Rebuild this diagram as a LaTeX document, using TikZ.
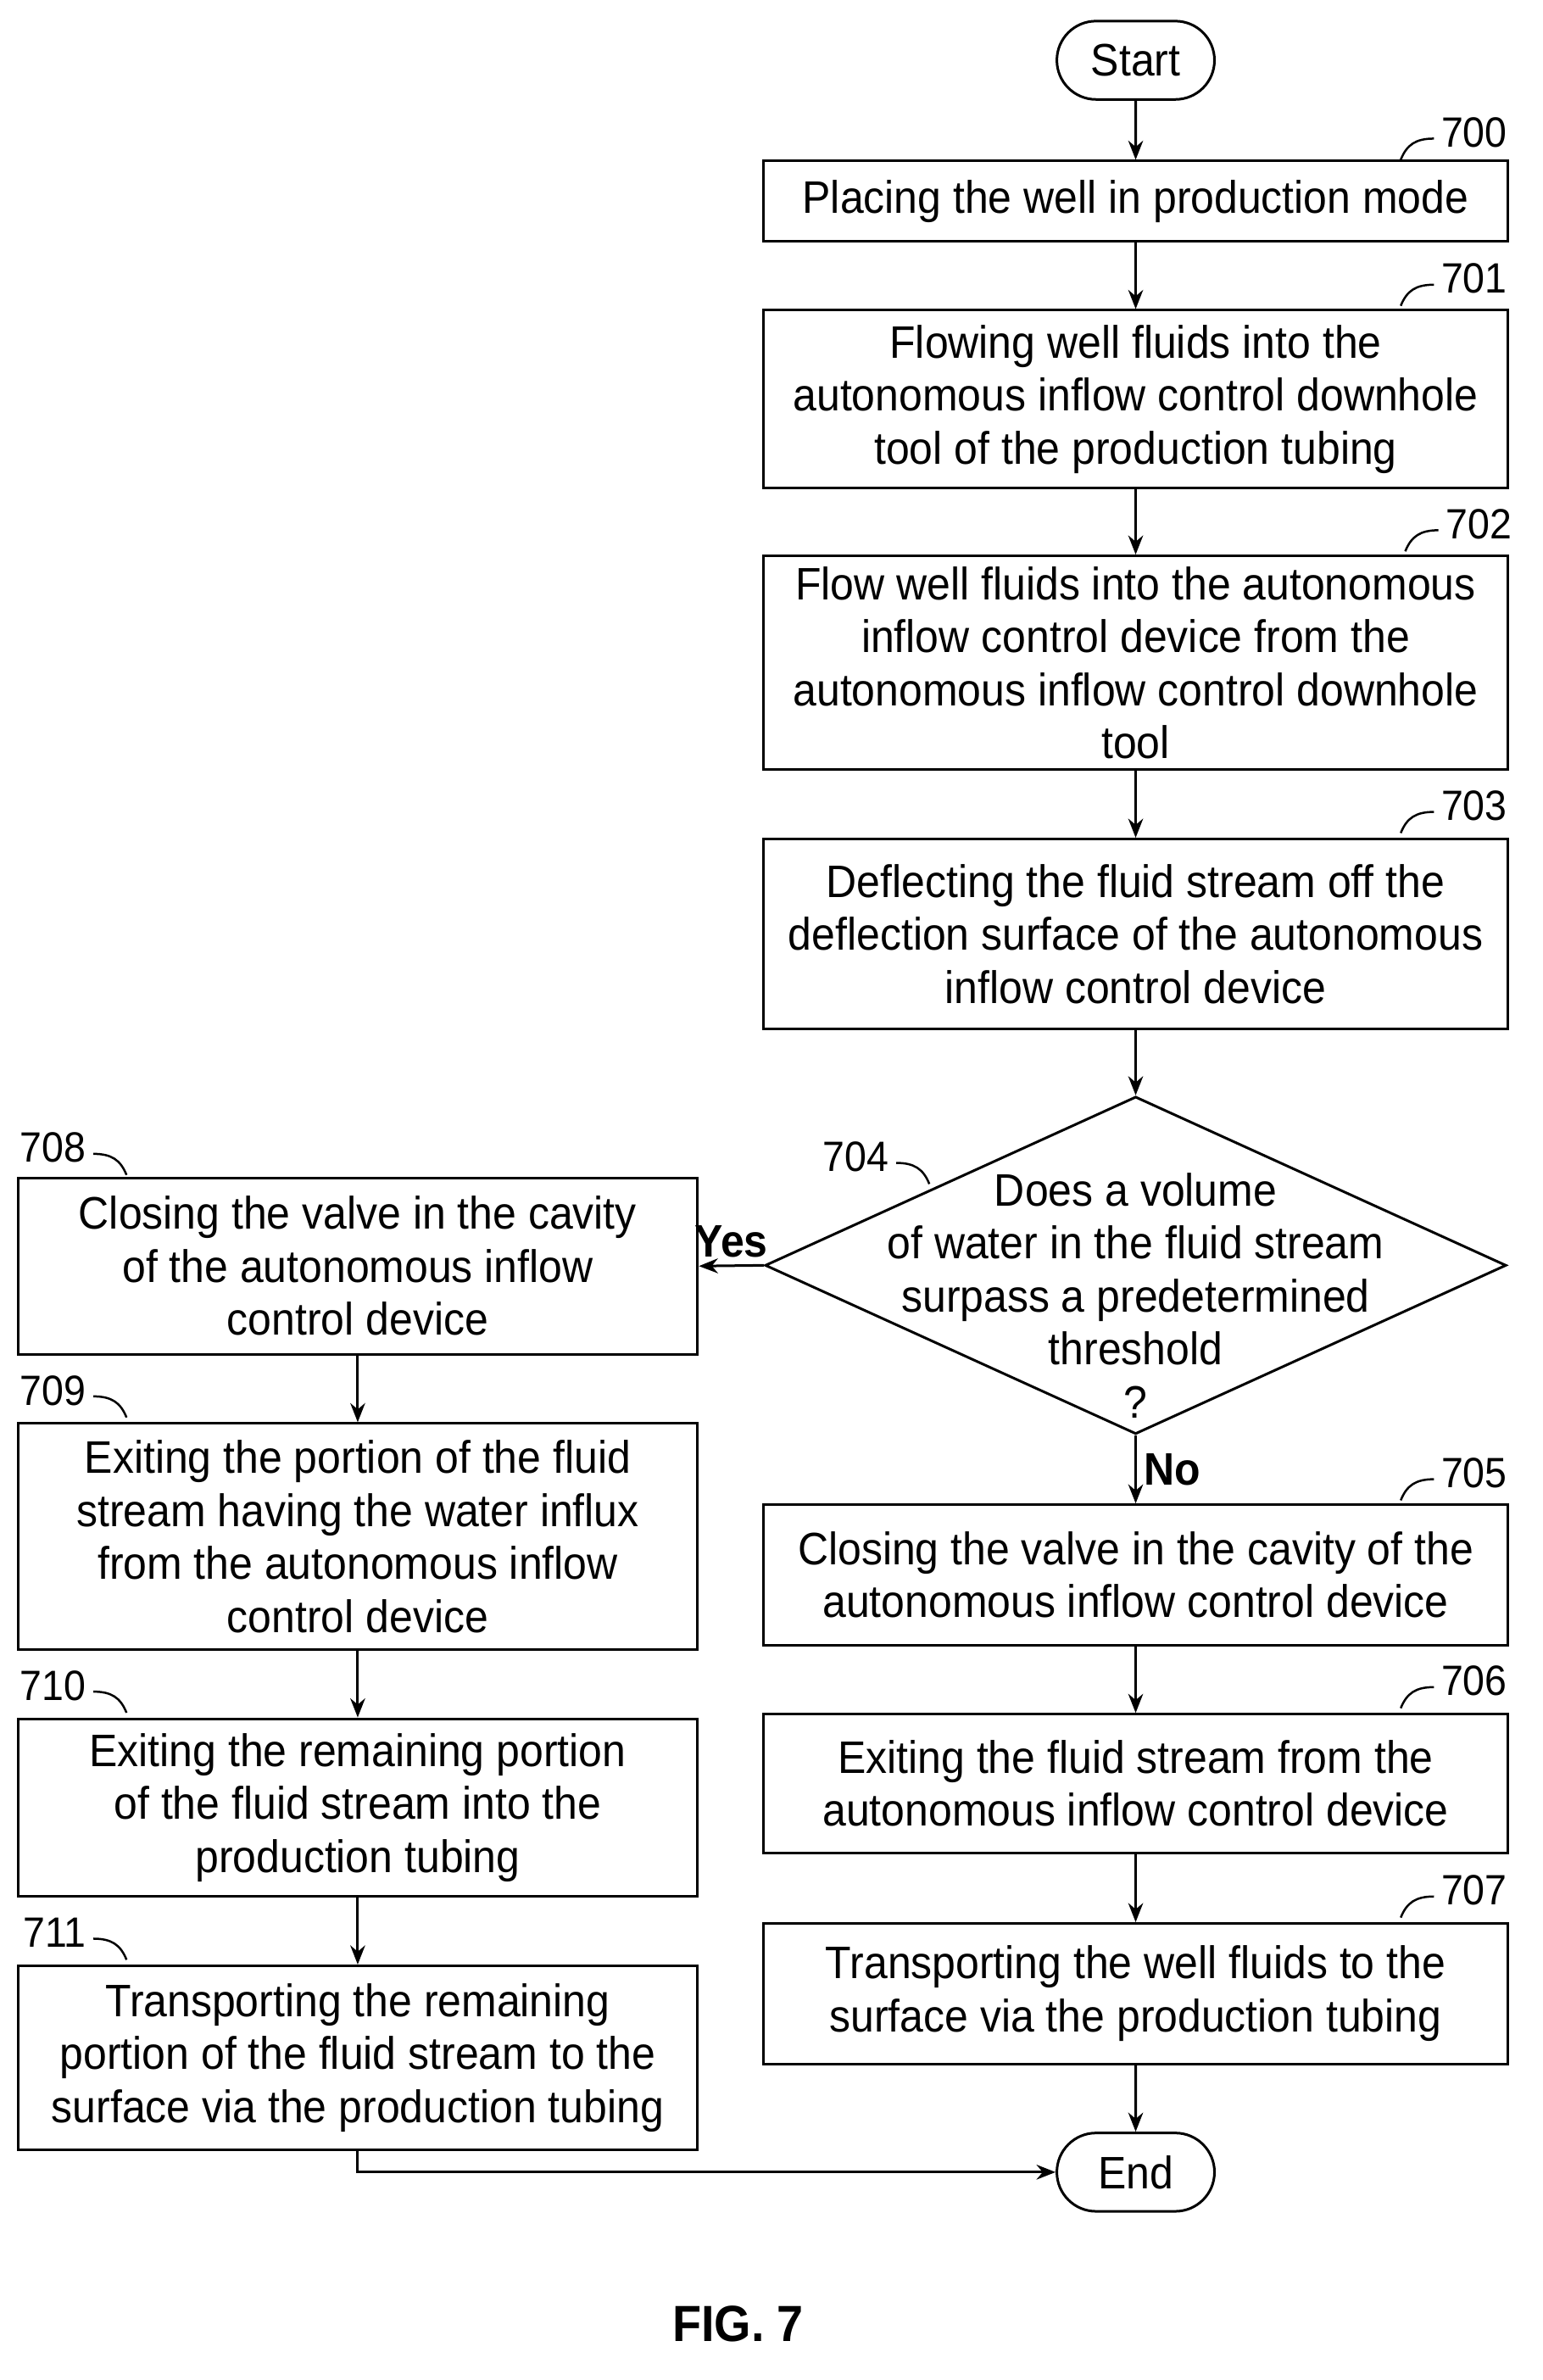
\documentclass[tikz,border=0pt]{standalone}
\usepackage{fontspec}
\setmainfont{Liberation Sans}[FakeStretch=0.93]
\usetikzlibrary{shapes.geometric,shapes.misc,arrows.meta}
\tikzset{
stepbox/.style={rectangle, draw, line width=1.2pt, align=center, inner sep=0pt, font=\fontsize{21.5}{25}\selectfont},
termstyle/.style={rounded rectangle, draw, line width=1.2pt, minimum width=2.85cm, minimum height=1.3cm, font=\fontsize{21.5}{25}\selectfont},
flow/.style={line width=1.2pt, -{Stealth[length=9pt,width=7pt]}},
refstyle/.style={font=\fontsize{20}{24}\selectfont},
tick/.style={line width=1pt}
}
% reference number with its curved leader
\newcommand{\steplabel}[3]{
  \node [refstyle, anchor=west] () at (#2, #3) {#1};
  \draw [tick] (#2, #3+4) .. controls (#2-12, #3+4) and (#2-18, #3+8) .. (#2-22, #3+18);
}
\newcommand{\leftlabel}[3]{
  \node [refstyle, anchor=east] () at (#2, #3) {#1};
  \draw [tick] (#2, #3+4) .. controls (#2+12, #3+4) and (#2+18, #3+8) .. (#2+22, #3+18);
}
\begin{document}
\begin{tikzpicture}[x=0.025cm, y=-0.025cm]
\useasboundingbox (0,0) rectangle (1024,1580);

\node [termstyle] (start) at (754, 40) {Start};
\node [stepbox, minimum width=12.35cm, minimum height=1.33cm] (s700) at (754, 133.5) {Placing the well in production mode};
\node [stepbox, minimum width=12.35cm, minimum height=2.95cm] (s701) at (754, 265) {Flowing well fluids into the\\autonomous inflow control downhole\\tool of the production tubing};
\node [stepbox, minimum width=12.35cm, minimum height=3.55cm] (s702) at (754, 440) {Flow well fluids into the autonomous\\inflow control device from the\\autonomous inflow control downhole\\tool};
\node [stepbox, minimum width=12.35cm, minimum height=3.15cm] (s703) at (754, 620) {Deflecting the fluid stream off the\\deflection surface of the autonomous\\inflow control device};
\node [diamond, draw, line width=1.2pt, minimum width=12.3cm, minimum height=5.6cm, inner sep=0pt] (s704) at (754, 840) {};
\node [align=center, font=\fontsize{21.5}{25}\selectfont] (q704) at (754, 860) {Does a volume\\of water in the fluid stream\\surpass a predetermined\\threshold\\?};
\node [stepbox, minimum width=12.35cm, minimum height=2.33cm] (s705) at (754, 1045.5) {Closing the valve in the cavity of the\\autonomous inflow control device};
\node [stepbox, minimum width=12.35cm, minimum height=2.3cm] (s706) at (754, 1184) {Exiting the fluid stream from the\\autonomous inflow control device};
\node [stepbox, minimum width=12.35cm, minimum height=2.33cm] (s707) at (754, 1323.5) {Transporting the well fluids to the\\surface via the production tubing};
\node [termstyle] (end) at (754, 1442) {End};

\node [stepbox, minimum width=11.28cm, minimum height=2.93cm] (s708) at (237.5, 840.5) {Closing the valve in the cavity\\of the autonomous inflow\\control device};
\node [stepbox, minimum width=11.28cm, minimum height=3.75cm] (s709) at (237.5, 1020) {Exiting the portion of the fluid\\stream having the water influx\\from the autonomous inflow\\control device};
\node [stepbox, minimum width=11.28cm, minimum height=2.95cm] (s710) at (237.5, 1200) {Exiting the remaining portion\\of the fluid stream into the\\production tubing};
\node [stepbox, minimum width=11.28cm, minimum height=3.05cm] (s711) at (237.5, 1366) {Transporting the remaining\\portion of the fluid stream to the\\surface via the production tubing};

\draw [flow] (start) -- (s700);
\draw [flow] (s700) -- (s701);
\draw [flow] (s701) -- (s702);
\draw [flow] (s702) -- (s703);
\draw [flow] (s703) -- (s704);
\draw [flow] (s704.west) -- node [above, font=\bfseries\fontsize{21.5}{25}\selectfont] {Yes} (s708.east);
\draw [flow] (s704.south) -- node [right, font=\bfseries\fontsize{21.5}{25}\selectfont] {No} (s705.north);
\draw [flow] (s705) -- (s706);
\draw [flow] (s706) -- (s707);
\draw [flow] (s707) -- (end);
\draw [flow] (s708) -- (s709);
\draw [flow] (s709) -- (s710);
\draw [flow] (s710) -- (s711);
\draw [flow] (s711.south) |- (end.west);

\steplabel{700}{952}{88}
\steplabel{701}{952}{185}
\steplabel{702}{955}{348}
\steplabel{703}{952}{535}
\steplabel{705}{952}{978}
\steplabel{706}{952}{1116}
\steplabel{707}{952}{1255}
\leftlabel{704}{595}{768}
\leftlabel{708}{62}{762}
\leftlabel{709}{62}{923}
\leftlabel{710}{62}{1119}
\leftlabel{711}{62}{1283}

\node [font=\bfseries\fontsize{24}{28}\selectfont] (fig) at (490, 1543) {FIG. 7};
\end{tikzpicture}
\end{document}
